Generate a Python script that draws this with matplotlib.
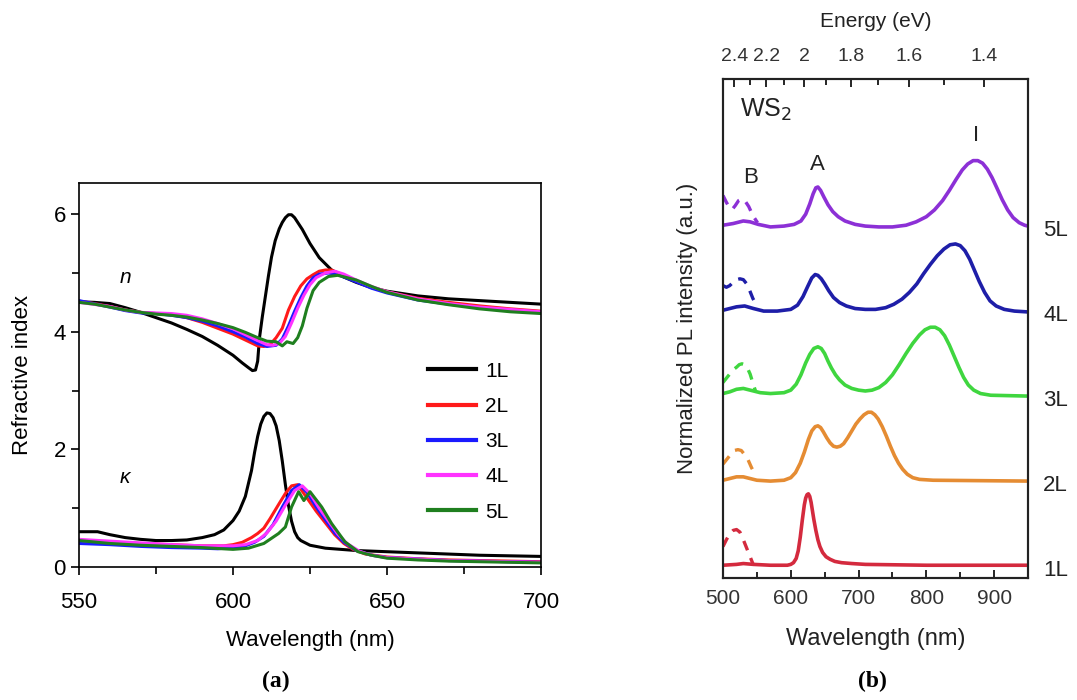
import numpy as np
import matplotlib
matplotlib.use("Agg")
import matplotlib.pyplot as plt
from matplotlib.transforms import blended_transform_factory

plt.rcParams['font.family'] = ['Liberation Sans', 'DejaVu Sans']

# ---------------- panel (a): refractive index n and kappa ----------------
layers = ['1L', '2L', '3L', '4L', '5L']
colors_a = ['#000000', '#ff1a1a', '#1a1aff', '#ff33ff', '#1f7f1f']

wl_n = {
    '1L': [550, 555, 560, 565, 570, 575, 580, 585, 590, 595, 600, 603, 605, 606.3, 607.3, 608, 608.6,
           609.5, 610.5, 611.5, 612.5, 613.7, 615, 616, 617, 618, 619, 620, 621, 622.5, 625, 628, 632,
           636, 640, 645, 650, 660, 670, 680, 690, 700],
    '2L': [550, 555, 560, 565, 570, 575, 580, 585, 590, 595, 600, 604, 608, 610, 612, 614, 616, 618,
           620, 622, 624, 626, 628, 630, 632, 635, 640, 645, 650, 660, 670, 680, 690, 700],
    '3L': [550, 560, 565, 570, 575, 580, 585, 590, 595, 600, 604, 608, 611, 614, 616, 618, 620, 622,
           624, 626, 628, 631, 634, 640, 645, 650, 660, 670, 680, 690, 700],
    '4L': [550, 560, 565, 570, 575, 580, 585, 590, 595, 600, 604, 608, 611, 613, 615, 617, 619, 621,
           623, 625, 627, 630, 633, 636, 640, 645, 650, 660, 670, 680, 690, 700],
    '5L': [550, 555, 560, 565, 570, 575, 580, 585, 590, 595, 600, 604, 608, 611, 614, 616, 617.5,
           619.5, 621, 622.5, 624, 626, 628, 631, 634, 640, 645, 650, 660, 670, 680, 690, 700],
}
n_vals = {
    '1L': [4.51, 4.50, 4.48, 4.41, 4.33, 4.24, 4.15, 4.04, 3.92, 3.77, 3.60, 3.47, 3.39, 3.34, 3.35, 3.50,
           3.90, 4.25, 4.60, 4.95, 5.27, 5.55, 5.75, 5.86, 5.94, 5.99, 5.99, 5.94, 5.86, 5.74, 5.50, 5.26,
           5.05, 4.93, 4.84, 4.75, 4.69, 4.61, 4.56, 4.53, 4.50, 4.47],
    '2L': [4.52, 4.48, 4.43, 4.37, 4.33, 4.31, 4.29, 4.24, 4.16, 4.06, 3.96, 3.86, 3.76, 3.75, 3.78, 3.90,
           4.06, 4.37, 4.60, 4.78, 4.90, 4.97, 5.03, 5.05, 5.05, 4.98, 4.86, 4.76, 4.68, 4.57, 4.50, 4.44, 4.39, 4.35],
    '3L': [4.53, 4.42, 4.36, 4.32, 4.31, 4.28, 4.24, 4.18, 4.10, 4.00, 3.91, 3.80, 3.75, 3.77, 3.88, 4.10,
           4.35, 4.58, 4.78, 4.92, 4.98, 5.00, 4.97, 4.85, 4.74, 4.66, 4.54, 4.47, 4.41, 4.37, 4.33],
    '4L': [4.50, 4.43, 4.37, 4.33, 4.32, 4.31, 4.28, 4.22, 4.14, 4.05, 3.95, 3.85, 3.78, 3.77, 3.80, 3.92,
           4.15, 4.40, 4.62, 4.80, 4.92, 5.00, 5.03, 4.98, 4.88, 4.77, 4.68, 4.56, 4.48, 4.42, 4.38, 4.34],
    '5L': [4.50, 4.47, 4.42, 4.37, 4.33, 4.30, 4.28, 4.25, 4.20, 4.14, 4.07, 3.99, 3.90, 3.84, 3.83, 3.76,
           3.83, 3.80, 3.90, 4.10, 4.40, 4.70, 4.84, 4.94, 4.96, 4.88, 4.77, 4.67, 4.54, 4.46, 4.39, 4.34, 4.31],
}

wl_k = {
    '1L': [550, 556, 560, 565, 570, 575, 580, 585, 590, 594, 597, 600, 602, 604, 606, 607, 608, 609,
           610, 611, 612, 613, 614, 615, 616, 617, 618, 619, 620, 621, 622, 625, 630, 635, 640, 650,
           660, 670, 680, 690, 700],
    '2L': [550, 560, 570, 580, 590, 597, 600, 603, 606, 608, 610, 612, 615, 617, 619, 621, 623, 625,
           627, 630, 633, 636, 639, 643, 650, 660, 670, 680, 690, 700],
    '3L': [550, 560, 570, 580, 590, 595, 600, 604, 607, 610, 613, 616, 619, 621.5, 624, 627, 630, 633,
           636, 640, 645, 650, 670, 700],
    '4L': [550, 560, 570, 580, 590, 600, 604, 608, 611, 614, 617, 620, 622.5, 625, 628, 631, 634, 637,
           641, 645, 650, 670, 700],
    '5L': [550, 560, 570, 580, 590, 600, 605, 610, 614.8, 617, 619, 621.3, 623, 625, 628.8, 632, 636.3,
           640.6, 645, 650, 660, 670, 680, 690, 700],
}
k_vals = {
    '1L': [0.60, 0.60, 0.55, 0.50, 0.47, 0.45, 0.45, 0.46, 0.50, 0.55, 0.63, 0.79, 0.95, 1.20, 1.64, 1.95,
           2.22, 2.43, 2.56, 2.62, 2.61, 2.54, 2.40, 2.15, 1.80, 1.40, 1.05, 0.78, 0.60, 0.50, 0.45, 0.37,
           0.32, 0.30, 0.28, 0.26, 0.24, 0.22, 0.20, 0.19, 0.18],
    '2L': [0.45, 0.42, 0.40, 0.38, 0.36, 0.36, 0.38, 0.42, 0.50, 0.57, 0.66, 0.82, 1.08, 1.25, 1.38, 1.40,
           1.25, 1.10, 0.95, 0.75, 0.55, 0.40, 0.30, 0.22, 0.17, 0.14, 0.12, 0.11, 0.10, 0.09],
    '3L': [0.40, 0.38, 0.35, 0.33, 0.32, 0.31, 0.33, 0.36, 0.42, 0.52, 0.72, 1.02, 1.30, 1.40, 1.27, 1.02,
           0.80, 0.58, 0.42, 0.28, 0.20, 0.16, 0.11, 0.08],
    '4L': [0.47, 0.44, 0.41, 0.38, 0.36, 0.36, 0.38, 0.45, 0.58, 0.78, 1.05, 1.30, 1.38, 1.25, 1.00, 0.78,
           0.56, 0.40, 0.27, 0.20, 0.16, 0.11, 0.08],
    '5L': [0.45, 0.40, 0.37, 0.35, 0.33, 0.30, 0.32, 0.40, 0.57, 0.68, 1.02, 1.28, 1.13, 1.28, 1.02, 0.74,
           0.43, 0.26, 0.20, 0.15, 0.12, 0.10, 0.09, 0.08, 0.07],
}

# ---------------- panel (b): normalized PL spectra ----------------
wl_pl = {
    '1L': [500, 520, 530, 545, 570, 595, 600, 604, 608, 611, 614, 617, 620, 622, 624, 626, 628, 630,
           632, 634, 637, 640, 643, 647, 652, 658, 665, 675, 690, 710, 800, 950],
    '2L': [500, 510, 520, 530, 540, 550, 570, 590, 600, 607, 614, 620, 626, 631, 636, 640, 644, 648,
           653, 658, 663, 668, 673, 678, 684, 690, 696, 702, 708, 714, 719, 724, 729, 735, 741, 747,
           753, 759, 765, 772, 780, 790, 810, 950],
    '3L': [500, 510, 520, 530, 540, 555, 570, 590, 600, 608, 615, 622, 628, 634, 640, 645, 650, 655,
           660, 666, 672, 680, 690, 700, 710, 720, 730, 740, 750, 760, 770, 780, 790, 798, 806, 813,
           820, 827, 834, 841, 848, 855, 862, 870, 880, 895, 950],
    '4L': [500, 510, 520, 532, 545, 560, 580, 600, 610, 618, 625, 631, 636, 640, 645, 650, 656, 663,
           672, 682, 695, 710, 725, 740, 752, 764, 775, 786, 796, 806, 816, 826, 835, 843, 850, 857,
           864, 871, 878, 886, 894, 903, 915, 930, 950],
    '5L': [500, 515, 530, 540, 552, 570, 590, 605, 615, 622, 628, 633, 637, 640, 644, 649, 655, 662,
           670, 680, 695, 710, 730, 750, 770, 785, 800, 812, 824, 834, 844, 853, 861, 869, 876, 883,
           890, 897, 904, 912, 920, 928, 937, 945, 950],
}
pl_vals = {
    '1L': [0.0, 0.01, 0.02, 0.01, 0.0, 0.0, 0.01, 0.03, 0.08, 0.17, 0.33, 0.53, 0.71, 0.79, 0.83, 0.84,
           0.81, 0.74, 0.64, 0.54, 0.41, 0.30, 0.22, 0.15, 0.10, 0.07, 0.045, 0.03, 0.02, 0.01, 0.0, 0.0],
    '2L': [0.0, 0.02, 0.04, 0.04, 0.02, 0.0, -0.01, 0.0, 0.03, 0.09, 0.20, 0.33, 0.48, 0.58, 0.63, 0.64,
           0.62, 0.57, 0.50, 0.44, 0.40, 0.39, 0.40, 0.43, 0.50, 0.58, 0.66, 0.72, 0.77, 0.80, 0.80, 0.77,
           0.72, 0.63, 0.52, 0.40, 0.29, 0.20, 0.13, 0.07, 0.03, 0.01, 0.0, -0.01],
    '3L': [0.02, 0.04, 0.07, 0.08, 0.06, 0.03, 0.02, 0.03, 0.06, 0.13, 0.24, 0.38, 0.48, 0.55, 0.57, 0.55,
           0.49, 0.40, 0.32, 0.24, 0.18, 0.12, 0.08, 0.06, 0.05, 0.06, 0.09, 0.15, 0.24, 0.36, 0.49, 0.61,
           0.71, 0.77, 0.80, 0.80, 0.77, 0.70, 0.59, 0.46, 0.33, 0.21, 0.12, 0.06, 0.02, 0.0, -0.01],
    '4L': [0.0, 0.02, 0.04, 0.05, 0.02, -0.01, -0.01, 0.01, 0.06, 0.16, 0.28, 0.38, 0.42, 0.41, 0.37, 0.31,
           0.23, 0.15, 0.09, 0.05, 0.02, 0.01, 0.01, 0.03, 0.07, 0.13, 0.21, 0.31, 0.43, 0.54, 0.64, 0.72,
           0.77, 0.78, 0.76, 0.70, 0.60, 0.47, 0.34, 0.21, 0.11, 0.05, 0.01, -0.01, -0.02],
    '5L': [0.0, 0.02, 0.05, 0.04, 0.01, -0.02, -0.01, 0.01, 0.05, 0.13, 0.25, 0.37, 0.44, 0.45, 0.41, 0.33,
           0.24, 0.16, 0.10, 0.05, 0.01, -0.01, -0.02, -0.02, 0.0, 0.04, 0.10, 0.18, 0.29, 0.41, 0.54, 0.65,
           0.72, 0.76, 0.76, 0.73, 0.66, 0.56, 0.44, 0.30, 0.18, 0.09, 0.03, 0.0, -0.01],
}
# dashed B-exciton traces (magnified)
wl_b = {
    '1L': [500, 505, 510, 515, 520, 525, 530, 535, 540, 545],
    '2L': [500, 506, 512, 517, 522, 527, 532, 537, 542, 546, 550],
    '3L': [500, 505, 510, 515, 520, 524, 528, 532, 536, 540, 545, 548],
    '4L': [500, 505, 510, 515, 520, 525, 530, 535, 540, 544, 548],
    '5L': [500, 505, 510, 514, 518, 523, 528, 533, 538, 542, 546, 551],
}
b_vals = {
    '1L': [0.22, 0.30, 0.37, 0.41, 0.42, 0.39, 0.30, 0.20, 0.10, 0.0],
    '2L': [0.19, 0.25, 0.31, 0.35, 0.36, 0.35, 0.30, 0.24, 0.15, 0.09, 0.05],
    '3L': [0.15, 0.20, 0.25, 0.30, 0.33, 0.36, 0.37, 0.36, 0.32, 0.25, 0.12, 0.05],
    '4L': [0.29, 0.27, 0.29, 0.33, 0.36, 0.37, 0.36, 0.31, 0.22, 0.14, 0.08],
    '5L': [0.35, 0.27, 0.20, 0.19, 0.23, 0.29, 0.31, 0.28, 0.22, 0.15, 0.09, 0.03],
}
colors_b = {'1L': '#d42a3e', '2L': '#e58c33', '3L': '#3fd63f', '4L': '#1e1ea8', '5L': '#8c30d6'}
energy_major = [2.4, 2.2, 2.0, 1.8, 1.6, 1.4]
energy_labels = ['2.4', '2.2', '2', '1.8', '1.6', '1.4']
energy_minor = [2.3, 2.1, 1.9, 1.7, 1.5]

fig = plt.figure(figsize=(10.77, 7.0), dpi=100)

# ----- (a) -----
ax = fig.add_axes([0.0734, 0.19, 0.4289, 0.5486])
for lay, c in zip(layers, colors_a):
    ax.plot(wl_n[lay], n_vals[lay], color=c, lw=2.2, label=lay)
    ax.plot(wl_k[lay], k_vals[lay], color=c, lw=2.2)
ax.set_xlim(550, 700)
ax.set_ylim(0, 6.53)
ax.set_xticks([550, 600, 650, 700])
ax.set_xticks([575, 625, 675], minor=True)
ax.set_yticks([0, 2, 4, 6])
ax.set_yticks([1, 3, 5], minor=True)
ax.tick_params(which='major', direction='out', length=6, width=1.2, labelsize=16)
ax.tick_params(axis='x', which='major', pad=12)
ax.tick_params(which='minor', direction='out', length=5, width=1.2)
for s in ax.spines.values():
    s.set_linewidth(1.2)
ax.set_xlabel('Wavelength (nm)', fontsize=16, labelpad=12)
ax.set_ylabel('Refractive index', fontsize=16, labelpad=15)
ax.text(565, 4.93, 'n', style='italic', fontsize=15, ha='center', va='center')
ax.text(565, 1.53, 'κ', style='italic', fontsize=15, ha='center', va='center')
leg = ax.legend(loc='upper left', bbox_to_anchor=(0.755, 0.535), frameon=False, fontsize=15,
                handlelength=2.3, handletextpad=0.45, labelspacing=0.78, borderpad=0, borderaxespad=0)
for h in leg.get_lines():
    h.set_linewidth(3)

# ----- (b) -----
bx = fig.add_axes([0.6713, 0.1743, 0.2832, 0.7128])
for i, lay in enumerate(layers):
    off = i * 1.0
    c = colors_b[lay]
    bx.plot(wl_pl[lay], np.array(pl_vals[lay]) + off, color=c, lw=2.6)
    bx.plot(wl_b[lay], np.array(b_vals[lay]) + off, color=c, lw=2.4, ls=(0, (3, 2.5)))
bx.set_xlim(500, 950)
bx.set_ylim(-0.15, 5.72)
bx.set_xticks([500, 600, 700, 800, 900])
bx.set_xticks([550, 650, 750, 850], minor=True)
bx.set_yticks([])
bx.tick_params(axis='x', which='major', direction='in', length=6, width=1.2, labelsize=15, pad=8,
               labelcolor='#333333')
bx.tick_params(axis='x', which='minor', direction='in', length=4, width=1.2)
for s in bx.spines.values():
    s.set_linewidth(1.5)
    s.set_color('#222222')
bx.set_xlabel('Wavelength (nm)', fontsize=17, labelpad=14, color='#222222')
bx.set_ylabel('Normalized PL intensity (a.u.)', fontsize=16, labelpad=18, color='#222222')

top = bx.twiny()
top.set_xlim(bx.get_xlim())
top.set_xticks([1240.0 / e for e in energy_major])
top.set_xticklabels(energy_labels)
top.set_xticks([1240.0 / e for e in energy_minor], minor=True)
top.tick_params(which='major', direction='in', length=6, width=1.2, labelsize=14, pad=10,
                labelcolor='#333333')
top.tick_params(which='minor', direction='in', length=4, width=1.2)
top.set_xlabel('Energy (eV)', fontsize=15, labelpad=15, color='#222222')
for s in top.spines.values():
    s.set_linewidth(1.5)
    s.set_color('#222222')

bx.text(525, 5.36, 'WS$_2$', fontsize=18, ha='left', va='center', color='#222222')
bx.text(540, 4.56, 'B', fontsize=16, ha='center', va='center', color='#222222')
bx.text(640, 4.71, 'A', fontsize=16, ha='center', va='center', color='#222222')
bx.text(873, 5.06, 'I', fontsize=16, ha='center', va='center', color='#222222')
tr = blended_transform_factory(bx.transAxes, bx.transData)
for i, lay in enumerate(layers):
    bx.text(1.05, i * 1.0 - 0.06, lay, transform=tr, fontsize=16, ha='left', va='center',
            color='#222222')

fig.text(0.256, 0.026, '(a)', fontsize=17, fontweight='bold', family='Liberation Serif',
         ha='center', va='center')
fig.text(0.810, 0.026, '(b)', fontsize=17, fontweight='bold', family='Liberation Serif',
         ha='center', va='center')

fig.savefig('out.png', dpi=100)
